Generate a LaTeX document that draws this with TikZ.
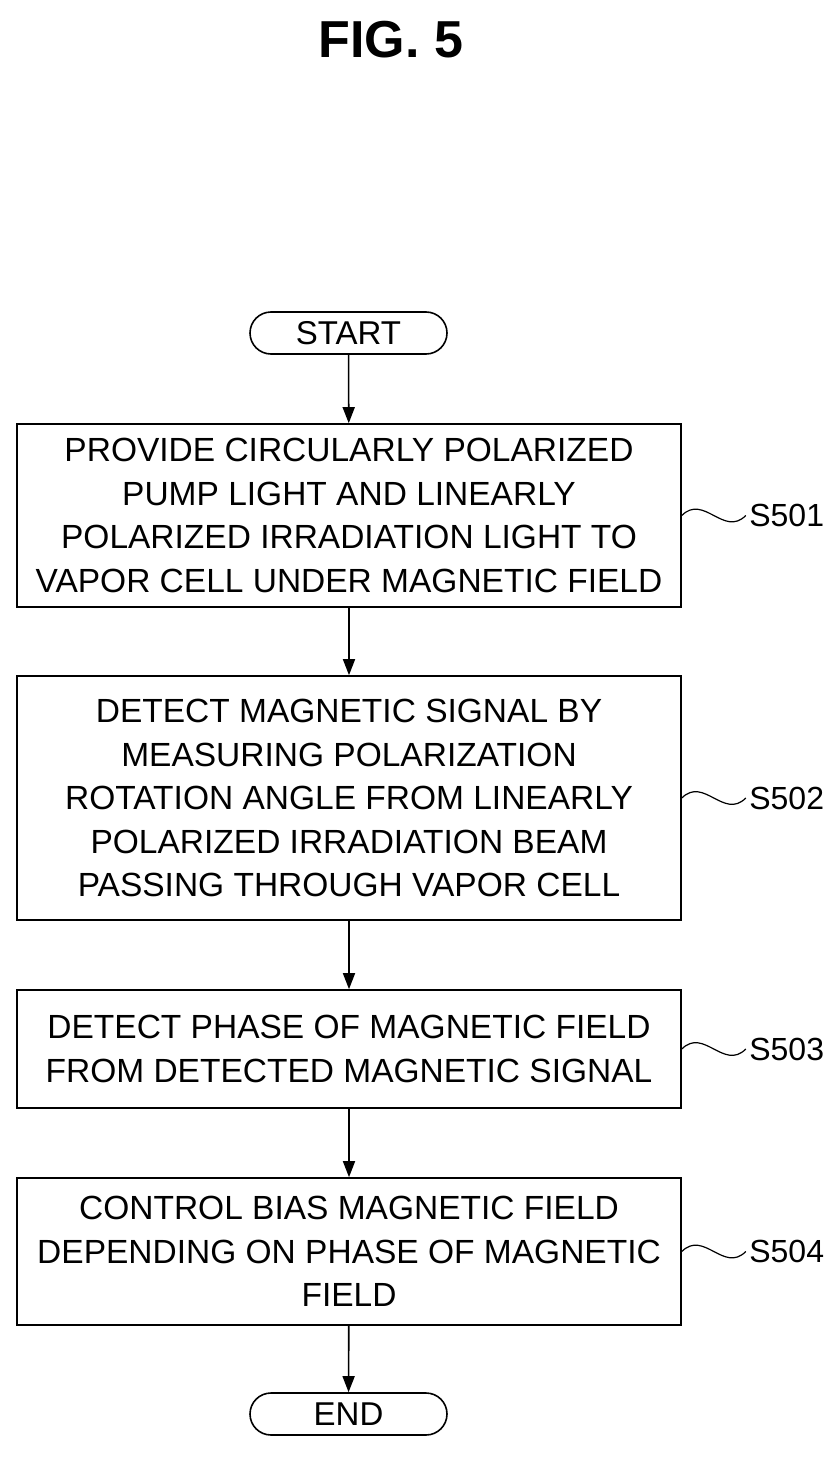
\documentclass[tikz,border=0pt]{standalone}
\usepackage{fontspec}
\setmainfont{Liberation Sans}
\usetikzlibrary{arrows.meta}

\tikzset{
  stepbox/.style={draw, line width=1.6pt, minimum width=664pt, align=center, font=\fontsize{33.5}{43.5}\selectfont, inner sep=0pt},
  termbox/.style={draw, line width=1.6pt, rounded corners=21pt, minimum width=197pt, minimum height=42pt, font=\fontsize{33}{36}\selectfont, inner sep=0pt},
  flow/.style={line width=1.6pt, -{Triangle[length=16pt, width=12pt]}},
  tag/.style={font=\fontsize{32}{36}\selectfont, anchor=west}
}

\begin{document}
\begin{tikzpicture}[x=1pt, y=-1pt]
    \useasboundingbox (0, 0) rectangle (840, 1458);

    % title
    \node[font=\bfseries\fontsize{52}{56}\selectfont] (title) at (391, 40) {FIG. 5};

    % terminals and steps
    \node[termbox] (start) at (348.5, 333) {START};
    \node[stepbox, minimum height=183pt] (s501) at (349, 515.5) {PROVIDE CIRCULARLY POLARIZED\\PUMP LIGHT AND LINEARLY\\POLARIZED IRRADIATION LIGHT TO\\VAPOR CELL UNDER MAGNETIC FIELD};
    \node[stepbox, minimum height=244pt] (s502) at (349, 798) {DETECT MAGNETIC SIGNAL BY\\MEASURING POLARIZATION\\ROTATION ANGLE FROM LINEARLY\\POLARIZED IRRADIATION BEAM\\PASSING THROUGH VAPOR CELL};
    \node[stepbox, minimum height=118pt] (s503) at (349, 1049) {DETECT PHASE OF MAGNETIC FIELD\\FROM DETECTED MAGNETIC SIGNAL};
    \node[stepbox, minimum height=147pt] (s504) at (349, 1251.5) {CONTROL BIAS MAGNETIC FIELD\\DEPENDING ON PHASE OF MAGNETIC\\FIELD};
    \node[termbox] (end) at (348.5, 1414) {END};

    % arrows
    \draw[flow] (start) -- (s501);
    \draw[flow] (s501) -- (s502);
    \draw[flow] (s502) -- (s503);
    \draw[flow] (s503) -- (s504);
    \draw[flow] (s504) -- (end);

    % step labels
    \foreach \s in {501, 502, 503, 504} {
        \draw[line width=1.2pt] (s\s.east) .. controls ++(22, -22) and ++(-22, 22) .. ++(64, 0) coordinate (c\s);
        \node[tag] (t\s) at (c\s) {S\s};
    }
\end{tikzpicture}
\end{document}
